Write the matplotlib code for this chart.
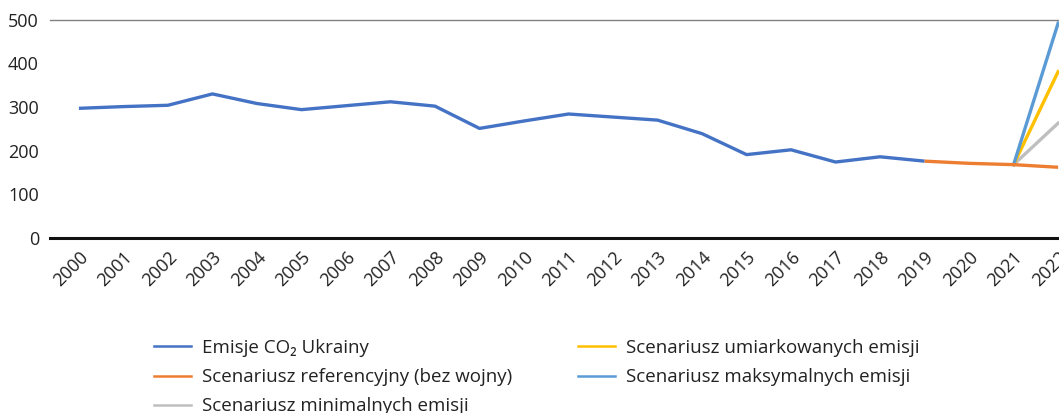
import numpy as np
import matplotlib
matplotlib.use("Agg")
import matplotlib.pyplot as plt
from matplotlib.lines import Line2D

years = list(range(2000, 2023))
emissions = [297, 301, 304, 330, 308, 294, 303, 312, 302, 251, 268, 284,
             277, 270, 239, 191, 202, 174, 186, 176, np.nan, np.nan, np.nan]
ref_years = [2019, 2020, 2021, 2022]
ref_values = [176, 171, 168, 162]
scen_years = [2021, 2022]
min_values = [168, 263]
mod_values = [168, 381]
max_values = [168, 492]

labels = ["Emisje CO₂ Ukrainy", "Scenariusz referencyjny (bez wojny)",
          "Scenariusz minimalnych emisji", "Scenariusz umiarkowanych emisji",
          "Scenariusz maksymalnych emisji"]
colors = ["#4472C4", "#ED7D31", "#BFBFBF", "#FFC000", "#5B9BD5"]
yticks = [0, 100, 200, 300, 400, 500]

plt.rcParams['font.family'] = ['Open Sans', 'DejaVu Sans']

fig = plt.figure(figsize=(10.59, 4.13), dpi=100)
ax = fig.add_axes([50/1059, (413-238)/413, 1 - 50/1059, (238-19.7)/413])

lw = 2.4
ax.plot(years, emissions, color=colors[0], lw=lw, solid_capstyle='butt')
ax.plot(scen_years, min_values, color=colors[2], lw=lw)
ax.plot(scen_years, mod_values, color=colors[3], lw=lw)
ax.plot(scen_years, max_values, color=colors[4], lw=lw)
ax.plot(ref_years, ref_values, color=colors[1], lw=lw, solid_capstyle='butt')

ax.set_xlim(2000 - 0.65, 2022.02)
ax.set_ylim(0, 500)
ax.set_yticks(yticks)
ax.set_xticks(years)
ax.set_xticklabels([str(y) for y in years], rotation=45, ha='right',
                   rotation_mode='anchor', fontsize=13, color='#222222')
ax.tick_params(axis='x', length=0, pad=7)
ax.tick_params(axis='y', length=0, pad=8, labelsize=13, labelcolor='#222222')

for s in ['left', 'right']:
    ax.spines[s].set_visible(False)
ax.spines['top'].set_color('#808080')
ax.spines['top'].set_linewidth(1.0)
ax.spines['bottom'].set_color('#111111')
ax.spines['bottom'].set_linewidth(2.2)

handles = [Line2D([], [], color=c, lw=1.8) for c in colors]
leg = fig.legend(handles, labels, ncol=2, loc='upper left',
                 bbox_to_anchor=(137/1059, 1 - 322/413), frameon=False,
                 fontsize=13.5, handlelength=1.97, handletextpad=0.59,
                 columnspacing=3.53, labelspacing=0.6)
for t in leg.get_texts():
    t.set_color('#222222')

fig.savefig("out.png", dpi=100)
